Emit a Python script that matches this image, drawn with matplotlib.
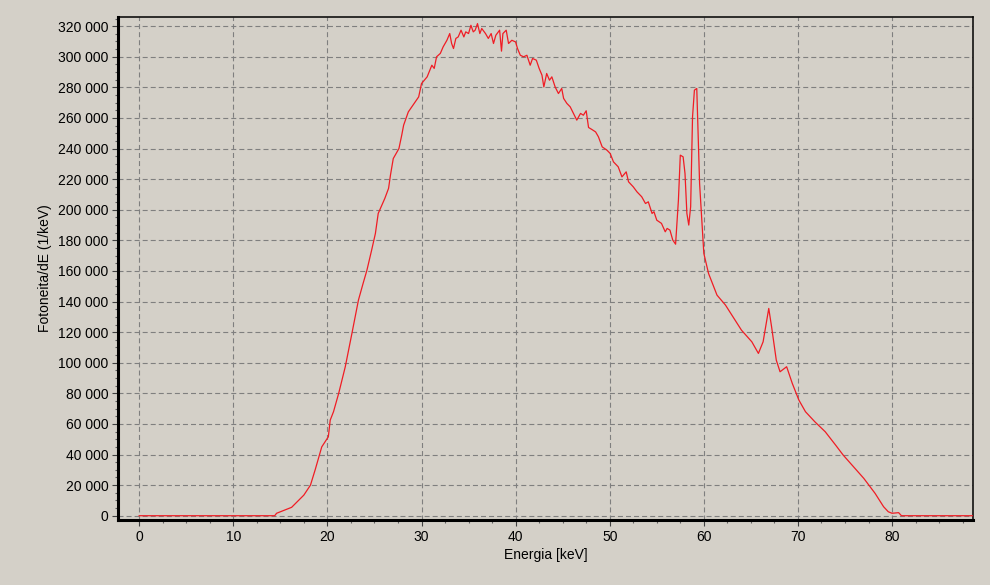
import matplotlib.pyplot as plt
import numpy as np
from matplotlib.ticker import FuncFormatter, MultipleLocator


# spektri luettu kuvasta (keV, fotonia/keV)
energy = [
	0.0, 14.4, 14.6, 15.3, 16.2, 16.8, 17.5, 18.2, 18.7, 19.4, 20.1, 20.3,
	20.65, 21.2, 21.9, 22.6, 23.3, 23.8, 24.2, 24.7, 25.1, 25.4, 26.1, 26.5,
	26.7, 27.0, 27.6, 27.9, 28.1, 28.6, 29.1, 29.7, 30.0, 30.6, 31.1, 31.35,
	31.6, 32.0, 32.3, 32.7, 33.0, 33.2, 33.4, 33.65, 33.9, 34.2, 34.5, 34.7,
	35.0, 35.25, 35.5, 35.7, 35.95, 36.2, 36.4, 36.8, 37.1, 37.4, 37.65, 37.9,
	38.3, 38.5, 38.65, 39.0, 39.25, 39.6, 40.0, 40.2, 40.5, 40.85, 41.2, 41.55,
	41.8, 42.2, 42.5, 42.8, 43.0, 43.3, 43.6, 43.85, 44.2, 44.55, 44.9, 45.1,
	45.45, 45.8, 46.15, 46.5, 46.9, 47.2, 47.5, 47.75, 48.1, 48.5, 48.8, 49.2,
	49.7, 50.05, 50.4, 50.9, 51.3, 51.75, 52.0, 52.5, 52.9, 53.4, 53.8, 54.1,
	54.5, 54.7, 55.0, 55.5, 55.9, 56.1, 56.4, 56.7, 57.0, 57.3, 57.5, 57.8,
	58.0, 58.2, 58.4, 58.6, 58.8, 59.0, 59.25, 59.55, 60.0, 60.5, 61.4, 62.3,
	63.2, 64.0, 65.1, 65.8, 66.3, 66.9, 67.2, 67.7, 68.1, 68.8, 69.4, 70.1,
	70.8, 71.8, 72.9, 74.0, 74.8, 75.9, 77.0, 78.2, 79.1, 79.6, 80.0, 80.7,
	81.0, 88.6,
]
counts = [
	0, 0, 1600, 3300, 5500, 9200, 13500, 20000, 30000, 45000, 51600, 62500,
	68000, 80000, 97400, 119000, 141000, 152000, 160500, 173600, 184500, 197600, 207400, 214000,
	222600, 233500, 240000, 248800, 255300, 264000, 268400, 273800, 282500, 286900, 294500, 292400,
	300000, 302200, 306500, 310800, 315200, 308700, 305400, 312000, 313000, 317400, 313000, 316300,
	315200, 320600, 316300, 317400, 321700, 315200, 318500, 315200, 312000, 315200, 308700, 314100,
	317400, 303700, 315200, 317400, 308700, 310800, 309700, 305400, 301000, 300000, 301000, 294500,
	298900, 297800, 292400, 288000, 280300, 289100, 284700, 286900, 280300, 276000, 279300, 272800,
	269500, 267300, 263000, 258600, 263000, 261800, 264700, 253800, 252500, 250900, 247700, 241100,
	239000, 236800, 231300, 228100, 221500, 224800, 218300, 215000, 211700, 208500, 204100, 205200,
	197600, 198700, 193200, 191100, 185600, 187800, 186700, 180200, 177500, 206300, 235700, 234600,
	223700, 197600, 190000, 202000, 260700, 278200, 279300, 217200, 171500, 158400, 144200, 137700,
	129000, 121300, 113700, 106100, 113700, 135500, 123500, 101700, 94100, 97400, 86500, 75600,
	68000, 61400, 54900, 46200, 39700, 32000, 24400, 14600, 5900, 2600, 1600, 2000,
	0, 0,
]

bg = '#d4d0c8'


def thousands(v, pos):
	return f'{int(round(v)):,}'.replace(',', ' ')


def main():
	plt.rcParams['font.family'] = ['Liberation Sans', 'DejaVu Sans']
	plt.rcParams['lines.scale_dashes'] = False

	fig = plt.figure(figsize=[9.9, 5.85], dpi=100, facecolor=bg)
	ax = fig.add_axes([0.1192, 0.1111, 0.8636, 0.8598], facecolor=bg)

	ax.plot(energy, counts, color='#f01c24', linewidth=0.9, zorder=3)

	ax.set_xlim(-2.25, 88.6)
	ax.set_ylim(-2800, 326000)

	ax.xaxis.set_major_locator(MultipleLocator(10))
	ax.xaxis.set_minor_locator(MultipleLocator(2.5))
	ax.yaxis.set_major_locator(MultipleLocator(20000))
	ax.yaxis.set_minor_locator(MultipleLocator(5000))
	ax.yaxis.set_major_formatter(FuncFormatter(thousands))

	ax.grid(True, which='major', color='#7f7f7f', linewidth=0.8,
			linestyle=(0, (3.6, 2.2)), zorder=1)

	ax.tick_params(which='major', direction='out', length=4, width=0.8,
				   color='#404040', labelsize=10, labelcolor='#000000', pad=3)
	ax.tick_params(which='minor', direction='out', length=2.5, width=0.8, color='#606060')

	for side in ['left', 'bottom']:
		ax.spines[side].set_linewidth(2.2)
		ax.spines[side].set_color('black')
	for side in ['top', 'right']:
		ax.spines[side].set_linewidth(1.1)
		ax.spines[side].set_color('black')

	ax.set_xlabel('Energia [keV]', fontsize=10, labelpad=3)
	ax.set_ylabel('Fotoneita/dE (1/keV)', fontsize=10, labelpad=4)

	fig.savefig('out.png', dpi=100, facecolor=bg)


if __name__ == "__main__":
	main()
